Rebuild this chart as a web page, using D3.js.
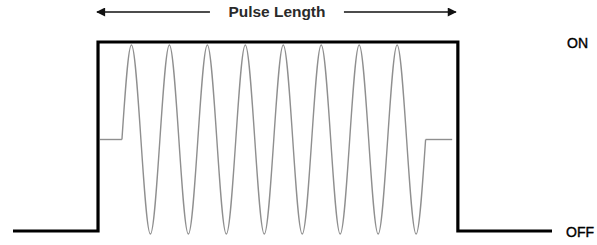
<!DOCTYPE html>
<html>
<head>
<meta charset="utf-8">
<script src="https://cdn.jsdelivr.net/npm/d3@7"></script>
<style>
  body { margin: 0; background: #fff; }
  text { font-family: "Liberation Sans", Arial, sans-serif; fill: #1a1a1a; }
</style>
</head>
<body>
<div id="holder"></div>
<script>
const w = 597;
const h = 245;

// time axis in carrier periods, levels 0 = OFF, 1 = ON
const gateTimes = [0, 2.24, 2.24, 11.72, 11.72, 14.2];
const gateLevels = [0, 0, 1, 1, 0, 0];

const levelLabels = ["OFF", "ON"];
const pulseLabel = "Pulse Length";

// carrier: flat idle parts and the oscillation (crossings, peaks, troughs)
const idleLeft = [[2.29, 0], [2.87, 0]];
const idleRight = [[10.87, 0], [11.57, 0]];
const carrierTimes = [2.87, 3.12, 3.37, 3.62, 3.87, 4.12, 4.37, 4.62, 4.87, 5.12, 5.37,
  5.62, 5.87, 6.12, 6.37, 6.62, 6.87, 7.12, 7.37, 7.62, 7.87, 8.12, 8.37, 8.62, 8.87,
  9.12, 9.37, 9.62, 9.87, 10.12, 10.37, 10.62, 10.87];
const carrierValues = [0, 1, 0, -1, 0, 1, 0, -1, 0, 1, 0, -1, 0, 1, 0, -1, 0,
  1, 0, -1, 0, 1, 0, -1, 0, 1, 0, -1, 0, 1, 0, -1, 0];

// SCALES
const x = d3.scaleLinear().domain([0, 14.2]).range([13, 552]);
const y = d3.scaleLinear().domain([0, 1]).range([231, 42]);
const yc = d3.scaleLinear().domain([-1, 1]).range([234, 45]);

const svg = d3.select("#holder")
    .append("svg")
    .attr("width", w)
    .attr("height", h);

// arrow markers
const defs = svg.append("defs");
defs.append("marker")
    .attr("id", "head")
    .attr("viewBox", "0 0 10 10")
    .attr("refX", 9).attr("refY", 5)
    .attr("markerWidth", 11).attr("markerHeight", 9)
    .attr("markerUnits", "userSpaceOnUse")
    .attr("orient", "auto-start-reverse")
    .append("path")
    .attr("d", "M0,0 L10,5 L0,10 Z")
    .attr("fill", "#111");

// carrier wave
const lin = d3.line().x(d => x(d[0])).y(d => yc(d[1]));
[idleLeft, idleRight].forEach(seg => {
    svg.append("path")
        .attr("d", lin(seg))
        .attr("fill", "none")
        .attr("stroke", "#8f8f8f")
        .attr("stroke-width", 1.4);
});

svg.append("path")
    .datum(carrierTimes.map((t, i) => [t, carrierValues[i]]))
    .attr("d", d3.line().x(d => x(d[0])).y(d => yc(d[1])).curve(d3.curveNatural))
    .attr("fill", "none")
    .attr("stroke", "#8f8f8f")
    .attr("stroke-width", 1.4);

// gate pulse
svg.append("path")
    .datum(gateTimes.map((t, i) => [t, gateLevels[i]]))
    .attr("d", d3.line().x(d => x(d[0])).y(d => y(d[1])))
    .attr("fill", "none")
    .attr("stroke", "#000")
    .attr("stroke-width", 3.2)
    .attr("stroke-linejoin", "miter");

// level labels
svg.selectAll(".lvl")
    .data(levelLabels)
    .enter()
    .append("text")
    .attr("class", "lvl")
    .attr("x", (d, i) => i === 0 ? 566 : 567)
    .attr("y", (d, i) => y(i) + 1)
    .attr("dy", "0.35em")
    .attr("font-size", 14)
    .style("fill", "#000")
    .attr("stroke", "#000")
    .attr("stroke-width", 0.4)
    .text(d => d);

// pulse length label with arrows
const xs = x(gateTimes[1]), xe = x(gateTimes[3]);
const mid = (xs + xe) / 2;
svg.append("text")
    .attr("x", mid - 1)
    .attr("y", 12)
    .attr("dy", "0.35em")
    .attr("text-anchor", "middle")
    .attr("font-size", 14)
    .attr("font-weight", "bold")
    .attr("textLength", 97)
    .attr("lengthAdjust", "spacingAndGlyphs")
    .style("fill", "#2a2a2a")
    .text(pulseLabel);

const gap = 20;
svg.append("line")
    .attr("x1", mid - 48 - gap).attr("x2", xs - 1)
    .attr("y1", 12).attr("y2", 12)
    .attr("stroke", "#111").attr("stroke-width", 1.3)
    .attr("marker-end", "url(#head)");
svg.append("line")
    .attr("x1", mid + 48 + gap - 2).attr("x2", xe - 2)
    .attr("y1", 12).attr("y2", 12)
    .attr("stroke", "#111").attr("stroke-width", 1.3)
    .attr("marker-end", "url(#head)");
</script>
</body>
</html>
